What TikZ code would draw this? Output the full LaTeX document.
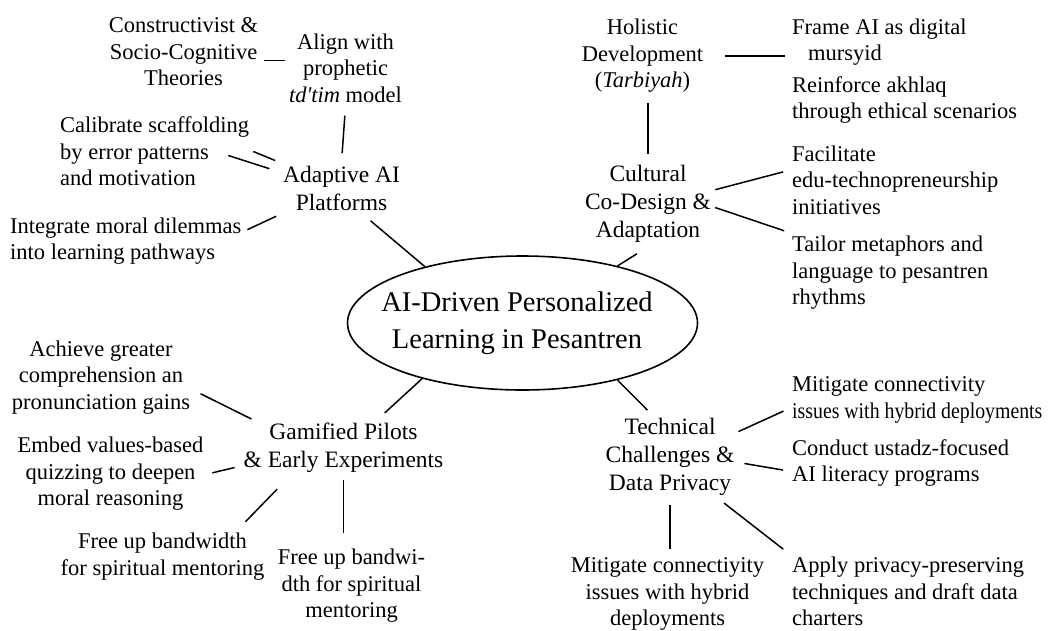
\documentclass[tikz,border=0pt]{standalone}
\usepackage{fontspec}
\setmainfont{Liberation Serif}
\usetikzlibrary{shapes.geometric,calc}
\tikzstyle{hub} = [ellipse, draw, line width=1.6pt, minimum width=350pt, minimum height=134pt, inner sep=0pt]
\tikzstyle{hubtext} = [align=center, font=\fontsize{28.5}{37}\selectfont]
\tikzstyle{topic} = [inner sep=4pt, align=center, font=\fontsize{23.5}{28}\selectfont]
\tikzstyle{leaf} = [inner sep=4pt, align=center, font=\fontsize{22.5}{26.5}\selectfont]
\tikzstyle{leafl} = [leaf, align=left, anchor=west]
\tikzstyle{link} = [line width=1.5pt]

\begin{document}
\begin{tikzpicture}[x=1pt,y=-1pt]
\fill[white] (0,0) rectangle (1048,630);
\useasboundingbox (0,0) rectangle (1048,630);
% centre
\draw (522.5,323) node (hub) [hub] {};
\draw (517,323.5) node (hubtext) [hubtext] {AI-Driven Personalized\\Learning in Pesantren};
% adaptive platforms
\draw (341.5,188.5) node (adapt) [topic] {Adaptive AI\\Platforms};
\draw (183.5,52) node (constr) [leaf] {Constructivist \&\\Socio-Cognitive\\Theories};
\draw (345.5,68) node (align) [leaf] {Align with\\prophetic\\\textit{td\textquotesingle tim} model};
\draw (56,151.5) node (calib) [leafl] {Calibrate scaffolding\\by error patterns\\and motivation};
\draw (6,241) node (integ) [leafl] {Integrate moral dilemmas\\into learning pathways};
% cultural co-design
\draw (642.5,56) node (holis) [leaf] {Holistic\\Development\\(\textit{Tarbiyah})};
\draw (648,204) node (cultur) [topic] {Cultural\\Co-Design \&\\Adaptation};
\draw (788,42) node (frame) [leafl] {Frame AI as digital\\\hspace*{16pt}mursyid};
\draw (788,100) node (reinf) [leafl] {Reinforce akhlaq\\through ethical scenarios};
\draw (788,180) node (facil) [leafl] {Facilitate\\edu-technopreneurship\\initiatives};
\draw (788,273) node (tailor) [leafl] {Tailor metaphors and\\language to pesantren\\rhythms};
% gamified pilots
\draw (343.5,448) node (gamif) [topic] {Gamified Pilots\\\& Early Experiments};
\draw (101,377.5) node (achieve) [leaf] {Achieve greater\\comprehension an\\pronunciation gains};
\draw (110.5,474) node (embed) [leaf] {Embed values-based\\quizzing to deepen\\moral reasoning};
\draw (162.5,556.5) node (free1) [leaf] {Free up bandwidth\\for spiritual mentoring};
\draw (351.5,586) node (free2) [leaf] {Free up bandwi-\\dth for spiritual\\mentoring};
% technical challenges
\draw (670,456.5) node (techn) [topic] {Technical\\Challenges \&\\Data Privacy};
\draw (788,400) node (mitig1) [leafl] {Mitigate connectivity\\{\addfontfeature{FakeStretch=0.88}issues with hybrid deployments}};
\draw (788,463) node (conduct) [leafl] {Conduct ustadz-focused\\AI literacy programs};
\draw (667.5,594) node (mitig2) [leaf] {Mitigate connectiyity\\issues with hybrid\\deployments};
\draw (788,591.5) node (apply) [leafl] {Apply privacy-preserving\\techniques and draft data\\charters};
% links
\draw[link, shorten <=2pt] (constr.-6) -- (constr.-6 -| align.west);
\draw[link, shorten <=9pt, shorten >=9pt] (align.south) -- (adapt.north);
\draw[link, shorten >=10pt] ([xshift=-25pt,yshift=-4pt]calib.east) -- (adapt.165);
\draw[link, shorten >=4pt] (calib.east) -- (adapt.north west);
\draw[link, shorten <=2pt, shorten >=3pt] (integ.5) -- (adapt.south west);
\draw[link, shorten <=9pt] (adapt.-50) -- (hub.150);
\draw[link, shorten <=18pt, shorten >=3pt] (holis.east) -- (holis.east -| frame.west);
\draw[link, shorten <=6pt, shorten >=7pt] (cultur.north |- holis.south) -- (cultur.north);
\draw[link, shorten >=5pt] (cultur.12) -- (facil.175);
\draw[link, shorten >=4pt] (cultur.-3) -- (tailor.north west);
\draw[link, shorten <=13pt] (cultur.south) -- (hub.31);
\draw[link, shorten >=9pt] (hub.209) -- (gamif.40);
\draw[link, shorten <=7pt] (achieve.-8) -- ([xshift=12pt]gamif.north west);
\draw[link, shorten <=5pt, shorten >=5pt] (embed.east) -- (gamif.190);
\draw[link, shorten <=10pt, shorten >=17pt] (free1.20) -- (gamif.-152);
\draw[link, shorten <=3pt, shorten >=12pt] (gamif.south) -- (gamif.south |- free2.north);
\draw[link, shorten >=5pt] (hub.-31) -- (techn.114);
\draw[link, shorten >=5pt] (techn.20) -- (mitig1.184);
\draw[link, shorten <=6pt, shorten >=5pt] (techn.-5) -- (conduct.184);
\draw[link, shorten <=6pt, shorten >=6pt] (techn.-41) -- (apply.north west);
\draw[link, shorten <=6pt, shorten >=4pt] (techn.south) -- (techn.south |- mitig2.north);
\end{tikzpicture}
\end{document}
